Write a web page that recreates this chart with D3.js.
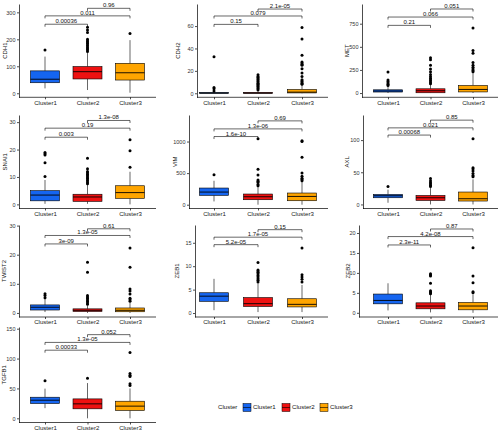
<!DOCTYPE html>
<html><head><meta charset="utf-8">
<script src="https://cdn.jsdelivr.net/npm/d3@7"></script>
<style>body{margin:0;background:#fff}svg{display:block;font-family:"Liberation Sans",Arial,sans-serif}</style>
</head><body><svg id="c" width="500" height="432"></svg>
<script>
const clusters = ["Cluster1","Cluster2","Cluster3"];
const clusterColors = ["#1565f0","#ee1111","#ffa500"];
const genes = ["CDH1","CDH2","MET","SNAI1","VIM","AXL","TWIST2","ZEB1","ZEB2","TGFB1"];
// y domain and ticks per gene
const yDomains = [[-15,331],[-3.6,79.7],[-46,963],[-1.5,32.6],[-60,1420],[-6.3,139],[-1.4,30.2],[-0.85,18.8],[-1.05,22],[-7,152.8]];
const yTicks = [[0,100,200,300],[0,20,40,60],[0,250,500,750],[0,10,20,30],[0,500,1000],[0,50,100],[0,10,20,30],[0,5,10,15],[0,5,10,15,20],[0,50,100,150]];
// box stats per gene: [lowWhisker,q1,median,q3,highWhisker] for each cluster
const statsCDH1 = [[18,39,52,83,136],[12,53,80,99,150],[2,49,76,111,197]];
const statsCDH2 = [[0,0,0.2,0.6,1.4],[0,0,0.2,0.7,1.6],[0,0.3,1,3.4,7.5]];
const statsMET = [[0,11,22,35,75],[0,3,25,46,95],[0,12,39,82,216]];
const statsSNAI1 = [[0.2,1.3,3.4,5.0,8.9],[0.2,1.1,2.7,3.7,7.2],[0,2.2,4.3,6.8,11.9]];
const statsVIM = [[52,148,200,264,379],[0,79,126,169,290],[0,63,131,185,360]];
const statsAXL = [[2.6,10.4,13.5,15.5,23],[0,6.2,10.4,14,26],[0,5.3,8.9,19.3,39]];
const statsTWIST2 = [[0.3,1.0,1.95,2.75,4.8],[0,0.5,0.9,1.4,2.6],[0,0.4,0.9,1.7,3.5]];
const statsZEB1 = [[0.6,2.5,3.6,4.33,7.3],[0.2,1.4,2.0,3.3,6.3],[0.2,1.3,1.85,3.05,6.0]];
const statsZEB2 = [[0.6,2.25,3.1,4.7,7.4],[0.1,1.0,1.7,2.5,4.6],[0,0.75,1.7,2.6,4.6]];
const statsTGFB1 = [[17,24.8,30.3,35.3,49.7],[0,15.9,24.2,32.5,59],[0,13.2,20.4,28.6,50]];
const allStats = [statsCDH1,statsCDH2,statsMET,statsSNAI1,statsVIM,statsAXL,statsTWIST2,statsZEB1,statsZEB2,statsTGFB1];
// outliers per gene per cluster
const outCDH1 = [[160],[155,160,165,170,175,180,185,190,195,200,225,235,245],[222]];
const outCDH2 = [[2,4,5.2,32.5],[3,4,5,6,7,8,9,10,11,12,13,14,15,16.5],[8,9,10,11,12,15,18,22,25,26,27,28,34,48.4,58.8]];
const outMET = [[82,95,110,125,140,227],[100,115,130,145,160,180,200,230,260,300,360,382],[230,245,260,280,300,330,430,461,703]];
const outSNAI1 = [[10.2,15.2,18.0,18.5,18.9],[7.5,8,8.5,9,9.5,10,10.5,11,11.5,12,13,16.8],[13.5,19.6,23.6]];
const outVIM = [[474],[300,320,350,370,390,470,560,1043],[380,400,420,450,500,753,1000,1011]];
const outAXL = [[28],[28,30,32,34,37,40.4],[43,45,48,52,55,57,102]];
const outTWIST2 = [[5.2,6.0,6.6],[3,3.5,4,4.5,5,5.5,6,14,17.4],[4,4.5,5,6.5,7.5,8.2,15.7,22.3]];
const outZEB1 = [[],[6.6,7,7.3,7.7,8,8.4,8.7,9,9.2,10.8],[6.6,7.2,7.7,8.2,13.9]];
const outZEB2 = [[],[4.8,5,5.2,5.5,7.4,9.2,9.5,9.8],[5,5.3,7.5,9.2,16.3]];
const outTGFB1 = [[63],[67],[55,58,70,72,75,110]];
const allOut = [outCDH1,outCDH2,outMET,outSNAI1,outVIM,outAXL,outTWIST2,outZEB1,outZEB2,outTGFB1];
// p-value brackets: pairs (1-2, 1-3, 2-3), y position in data units, label
const bracketPairs = [[0,1],[0,2],[1,2]];
const bracketY = [[256,287,315],[61.5,69,75.2],[732,822,909],[24.5,27.8,30.6],[1079,1200,1327],[107.8,119,131],[23.7,26.6,28.9],[14.6,16.2,17.8],[17,19.1,21],[114,127,140]];
const pLabels = [["0.00036","0.011","0.96"],["0.15","0.079","2.1e-05"],["0.21","0.066","0.051"],["0.003","0.19","1.3e-08"],["1.6e-10","1.3e-06","0.69"],["0.00068","0.021","0.85"],["3e-09","1.3e-05","0.61"],["5.2e-05","1.7e-05","0.15"],["2.3e-11","4.2e-08","0.87"],["0.00033","1.3e-05","0.052"]];

// layout
const rowY = [[4,97.3],[115,208.5],[225,317],[327,422.5]];
const colCenters = [[45,87.5,130],[214,258,302],[388,430.5,473]];
const colRight = [156,328,498];
const axisX = [19,197,362,19,189,363,19,195,359,19];
const titleX = [7,180,349,7,177,349,6,179,350,6];
const boxHalf = 14.5;
const FONT = "Liberation Sans, Arial, sans-serif";

const svg = d3.select("#c");
genes.forEach((g,i)=>{
  const r = Math.floor(i/3), c = i%3;
  const y = d3.scaleLinear().domain(yDomains[i]).range([rowY[r][1], rowY[r][0]]);
  const x = d3.scalePoint().domain(clusters).range([colCenters[c][0], colCenters[c][2]]);
  const gp = svg.append("g");
  const ax0 = axisX[i];
  // y axis
  const ya = gp.append("g").attr("transform",`translate(${ax0},0)`)
    .call(d3.axisLeft(y).tickValues(yTicks[i]).tickFormat(d3.format("d")).tickSize(2).tickSizeOuter(0).tickPadding(1.5));
  ya.selectAll("path,line").attr("stroke","#000").attr("stroke-width",0.7);
  ya.selectAll("text").attr("font-size",5.5).attr("fill","#333").attr("font-family",FONT);
  // x axis
  const xa = gp.append("g").attr("transform",`translate(0,${rowY[r][1]})`)
    .call(d3.axisBottom(x).tickSize(2).tickSizeOuter(0).tickPadding(1.0));
  xa.select(".domain").remove();
  xa.append("line").attr("x1",ax0).attr("x2",colRight[c]).attr("stroke","#000").attr("stroke-width",0.7);
  xa.selectAll("line").attr("stroke","#000").attr("stroke-width",0.7);
  xa.selectAll("text").attr("font-size",6.1).attr("fill","#222").attr("font-family",FONT);
  // y title
  gp.append("text").attr("transform",`translate(${titleX[i]},${(rowY[r][0]+rowY[r][1])/2}) rotate(-90)`)
    .attr("text-anchor","middle").attr("font-size",6).attr("fill","#111").text(g);
  // boxes
  clusters.forEach((cl,k)=>{
    const s = allStats[i][k], cx = x(cl);
    gp.append("line").attr("x1",cx).attr("x2",cx).attr("y1",y(s[0])).attr("y2",y(s[1])).attr("stroke","#000").attr("stroke-width",0.6);
    gp.append("line").attr("x1",cx).attr("x2",cx).attr("y1",y(s[3])).attr("y2",y(s[4])).attr("stroke","#000").attr("stroke-width",0.6);
    gp.append("rect").attr("x",cx-boxHalf).attr("width",boxHalf*2)
      .attr("y",y(s[3])).attr("height",Math.max(0.3,y(s[1])-y(s[3])))
      .attr("fill",clusterColors[k]).attr("stroke","#000").attr("stroke-width",0.6);
    gp.append("line").attr("x1",cx-boxHalf).attr("x2",cx+boxHalf).attr("y1",y(s[2])).attr("y2",y(s[2])).attr("stroke","#000").attr("stroke-width",0.9);
    gp.selectAll(null).data(allOut[i][k]).enter().append("circle")
      .attr("cx",cx).attr("cy",d=>y(d)).attr("r",1.5).attr("fill","#000");
  });
  // brackets
  bracketPairs.forEach((p,j)=>{
    const x1 = x(clusters[p[0]]), x2 = x(clusters[p[1]]), by = y(bracketY[i][j]);
    const tip = 2.5;
    gp.append("path").attr("d",`M${x1},${by+tip}V${by}H${x2}V${by+tip}`)
      .attr("fill","none").attr("stroke","#000").attr("stroke-width",0.6);
    gp.append("text").attr("x",(x1+x2)/2).attr("y",by-1).attr("text-anchor","middle")
      .attr("font-size",6).attr("fill","#111").attr("font-family",FONT).text(pLabels[i][j]);
  });
});
// legend
const leg = svg.append("g").attr("transform","translate(218,407)");
leg.append("text").attr("x",0).attr("y",2.2).attr("font-size",6.1).attr("fill","#111").text("Cluster");
const legX = [25,64,102];
clusters.forEach((cl,k)=>{
  const lx = legX[k];
  leg.append("rect").attr("x",lx).attr("y",-3.5).attr("width",8).attr("height",8).attr("fill",clusterColors[k]).attr("stroke","#000").attr("stroke-width",0.5);
  leg.append("line").attr("x1",lx).attr("x2",lx+8).attr("y1",0.5).attr("y2",0.5).attr("stroke","#000").attr("stroke-width",0.6);
  leg.append("text").attr("x",lx+10).attr("y",2.2).attr("font-size",6.1).attr("fill","#111").text(cl);
});
</script></body></html>
